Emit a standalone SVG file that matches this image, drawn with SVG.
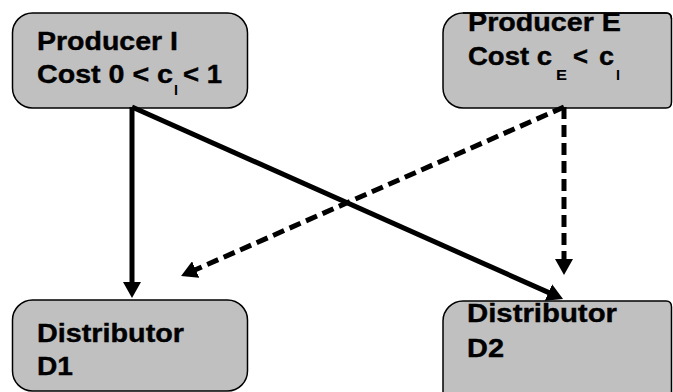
<svg xmlns="http://www.w3.org/2000/svg" width="673" height="392" viewBox="0 0 673 392">
  <style>
    .box { fill: #c0c0c0; stroke: #000; stroke-width: 1.5; }
    .lbl { font-family: "Liberation Sans", Arial, sans-serif; font-weight: bold; font-size: 26px; fill: #000; stroke: #000; stroke-width: 0.4; }
    .sub { font-family: "Liberation Sans", Arial, sans-serif; font-weight: bold; font-size: 15px; fill: #000; }
    .edge { fill: none; stroke: #000; stroke-width: 5; }
    .dash { stroke-dasharray: 12 6; }
  </style>
  <defs>
    <marker id="head" markerUnits="userSpaceOnUse" viewBox="0 0 16 18" refX="6" refY="9" markerWidth="16" markerHeight="18" orient="auto">
      <path d="M0,0 L16,9 L0,18 Z" fill="#000"/>
    </marker>
    <clipPath id="clipE">
      <path d="M463,13 H666 Q671.5,13 671.5,19 V102 Q671.5,108 666,108 H463 A20,20 0 0 1 443,88 V33 A20,20 0 0 1 463,13 Z"/>
    </clipPath>
  </defs>

  <g id="producer-i">
    <rect class="box" x="12.5" y="13" width="235" height="95" rx="20"/>
    <text class="lbl" x="37" y="50" textLength="141" lengthAdjust="spacingAndGlyphs">Producer I</text>
    <text class="lbl" x="37" y="83" textLength="136" lengthAdjust="spacingAndGlyphs">Cost 0 &lt; c</text>
    <text class="sub" x="174" y="95" textLength="4" lengthAdjust="spacingAndGlyphs">I</text>
    <text class="lbl" x="183" y="83" textLength="39" lengthAdjust="spacingAndGlyphs">&lt; 1</text>
  </g>

  <g id="producer-e">
    <path class="box" d="M463,13 H666 Q671.5,13 671.5,19 V102 Q671.5,108 666,108 H463 A20,20 0 0 1 443,88 V33 A20,20 0 0 1 463,13 Z"/>
    <g clip-path="url(#clipE)">
      <text class="lbl" x="468" y="31" textLength="153" lengthAdjust="spacingAndGlyphs">Producer E</text>
    </g>
    <path d="M463,13 H666 Q671.5,13 671.5,19" fill="none" stroke="#000" stroke-width="1.5"/>
    <text class="lbl" x="468" y="65" textLength="84" lengthAdjust="spacingAndGlyphs">Cost c</text>
    <text class="sub" x="556" y="80" textLength="11" lengthAdjust="spacingAndGlyphs">E</text>
    <text class="lbl" x="573" y="65" textLength="15" lengthAdjust="spacingAndGlyphs">&lt;</text>
    <text class="lbl" x="599" y="65" textLength="15" lengthAdjust="spacingAndGlyphs">c</text>
    <text class="sub" x="616" y="80" textLength="4" lengthAdjust="spacingAndGlyphs">I</text>
  </g>

  <g id="distributor-d1">
    <rect class="box" x="12.5" y="300" width="235" height="91" rx="20"/>
    <text class="lbl" x="37" y="342" textLength="147" lengthAdjust="spacingAndGlyphs">Distributor</text>
    <text class="lbl" x="37" y="375" textLength="36" lengthAdjust="spacingAndGlyphs">D1</text>
  </g>

  <g id="distributor-d2">
    <path class="box" d="M463,301 H666 Q671.5,301 671.5,307 V400 H443 V321 A20,20 0 0 1 463,301 Z"/>
    <text class="lbl" x="467" y="322" textLength="150" lengthAdjust="spacingAndGlyphs">Distributor</text>
    <text class="lbl" x="467" y="357" textLength="37" lengthAdjust="spacingAndGlyphs">D2</text>
  </g>

  <g id="connectors">
    <path class="edge" d="M132,107 V288" marker-end="url(#head)"/>
    <path class="edge" d="M132,107 L553.9,294.9" marker-end="url(#head)"/>
    <path class="edge dash" d="M564,107 V265" marker-end="url(#head)"/>
    <path class="edge dash" d="M564,107 L190.2,272" marker-end="url(#head)"/>
  </g>
</svg>
